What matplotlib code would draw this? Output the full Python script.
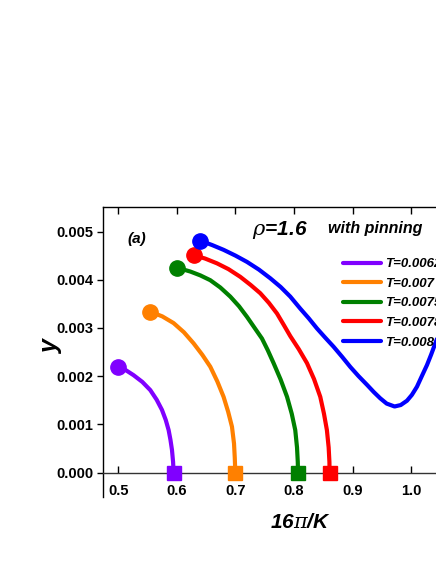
import matplotlib
matplotlib.use('Agg')
import matplotlib.pyplot as plt

# ---------------------------------
# y vs 16pi/K curves, rho=1.6 with pinning
# ---------------------------------

plt.rcParams['font.family'] = ['Liberation Sans', 'DejaVu Sans']
plt.rcParams['mathtext.fontset'] = 'custom'
plt.rcParams['mathtext.it'] = 'DejaVu Serif:italic'
plt.rcParams['mathtext.rm'] = 'Liberation Sans'

labels = ['T=0.0062', 'T=0.007', 'T=0.0075', 'T=0.0078', 'T=0.008']
colors = ['#8000ff', '#ff8000', '#008000', '#ff0000', '#0000ff']

x_62 = [0.4988, 0.512, 0.526, 0.541, 0.5546, 0.5655, 0.5745, 0.581, 0.5859, 0.589, 0.5916, 0.5935, 0.5944]
y_62 = [0.002195, 0.00213, 0.00202, 0.00188, 0.00171, 0.00151, 0.0013, 0.00109, 0.00088, 0.00068, 0.00047,
        0.00022, 0.0]

x_70 = [0.5546, 0.575, 0.5944, 0.612, 0.6285, 0.6435, 0.657, 0.669, 0.6797, 0.6875, 0.694, 0.6975, 0.6988,
        0.6997]
y_70 = [0.003336, 0.00324, 0.0031, 0.00291, 0.00268, 0.00244, 0.002195, 0.00189, 0.00157, 0.00126, 0.00095,
        0.0006, 0.0003, 0.0]

x_75 = [0.6001, 0.6229, 0.640, 0.657, 0.674, 0.6911, 0.706, 0.7196, 0.7338, 0.7452, 0.755, 0.765, 0.777,
        0.788, 0.796, 0.802, 0.805, 0.8063, 0.8067]
y_75 = [0.00425, 0.00417, 0.00409, 0.00399, 0.00384, 0.00365, 0.00345, 0.00323, 0.00298, 0.00278, 0.00254,
        0.00227, 0.00193, 0.00157, 0.00122, 0.00088, 0.00052, 0.00022, 0.0]

x_78 = [0.6285, 0.648, 0.6684, 0.688, 0.7082, 0.726, 0.7423, 0.757, 0.7708, 0.7825, 0.7935, 0.808, 0.822,
        0.834, 0.8447, 0.851, 0.856, 0.859, 0.8603, 0.8606]
y_78 = [0.00451, 0.00444, 0.00434, 0.00422, 0.00406, 0.00389, 0.00372, 0.00352, 0.0033, 0.00306, 0.00283,
        0.00256, 0.00227, 0.00194, 0.00157, 0.00122, 0.00088, 0.00052, 0.00022, 0.0]

x_80 = [0.640, 0.660, 0.6797, 0.700, 0.7196, 0.740, 0.7594, 0.777, 0.7935, 0.8106, 0.825, 0.839, 0.853,
        0.8674, 0.882, 0.896, 0.910, 0.9244, 0.936, 0.947, 0.958, 0.9715, 0.982, 0.9927, 1.001, 1.0097,
        1.018, 1.0268, 1.034, 1.041, 1.048]
y_80 = [0.00481, 0.00472, 0.00462, 0.0045, 0.00437, 0.00421, 0.00403, 0.00385, 0.00365, 0.0034, 0.0032,
        0.00299, 0.0028, 0.00261, 0.0024, 0.00219, 0.002, 0.00182, 0.00167, 0.00154, 0.00143, 0.00137,
        0.0014, 0.00149, 0.00161, 0.00178, 0.002, 0.00223, 0.00245, 0.00268, 0.0029]

xs = [x_62, x_70, x_75, x_78, x_80]
ys = [y_62, y_70, y_75, y_78, y_80]
has_end = [True, True, True, True, False]

xticks = [0.5, 0.6, 0.7, 0.8, 0.9, 1.0]
yticks = [0.000, 0.001, 0.002, 0.003, 0.004, 0.005]

fig = plt.figure(figsize=(4.36, 5.64), dpi=100)
# axes runs past the right edge of the figure (cropped like the original)
ax = fig.add_axes([0.2369, 0.1188, 0.8408, 0.5147])

for x, y, c, lab, end in zip(xs, ys, colors, labels, has_end):
    ax.plot(x, y, color=c, lw=3, label=lab, solid_capstyle='round', solid_joinstyle='round', zorder=2)
    ax.plot(x[0], y[0], 'o', color=c, ms=11, zorder=3)
    if end:
        ax.plot(x[-1], y[-1], 's', color=c, ms=9.5, zorder=3, clip_on=False)

ax.set_xlim(0.4744, 1.1)
ax.set_ylim(-0.000508, 0.005515)

ax.spines['bottom'].set_position(('data', 0))
ax.spines['bottom'].set_color('#333333')
for s in ax.spines.values():
    s.set_linewidth(1.0)

ax.set_xticks(xticks)
ax.set_xticklabels([f'{v:.1f}' for v in xticks])
ax.set_yticks(yticks)
ax.set_yticklabels([f'{v:.3f}' for v in yticks])
ax.tick_params(axis='x', direction='in', top=True, length=5, width=1, pad=8.5, labelsize=10.5)
ax.tick_params(axis='y', direction='out', length=4.5, width=1, pad=2.5, labelsize=10.5)
for t in ax.get_xticklabels() + ax.get_yticklabels():
    t.set_fontweight('bold')

ax.set_ylabel('y', fontsize=18, fontweight='bold', fontstyle='italic')
ax.yaxis.set_label_coords(-0.11, 0.517)
fig.text(0.69, 1 - 522 / 564, r'16$\pi$/K', fontsize=15, fontweight='bold', fontstyle='italic',
         ha='center', va='center')

fig.text(137 / 436, 1 - 239 / 564, '(a)', fontsize=11, fontweight='bold', fontstyle='italic',
         ha='center', va='center')
fig.text(280 / 436, 1 - 235 / 564, r'$\rho$=1.6', fontsize=15, fontweight='bold', fontstyle='italic',
         ha='center', va='baseline')
fig.text(328 / 436, 1 - 233 / 564, 'with pinning', fontsize=11.5, fontweight='bold', fontstyle='italic',
         ha='left', va='baseline')

# legend is cut at the right edge, same as the original figure
leg = ax.legend(loc='upper left', bbox_to_anchor=(343 / 436, 1 - 258 / 564), bbox_transform=fig.transFigure,
                frameon=False, fontsize=9.5, handlelength=2.9, handletextpad=0.3, labelspacing=0.56,
                borderpad=0, borderaxespad=0)
for t in leg.get_texts():
    t.set_fontweight('bold')
    t.set_fontstyle('italic')

fig.savefig('out.png', dpi=100)
